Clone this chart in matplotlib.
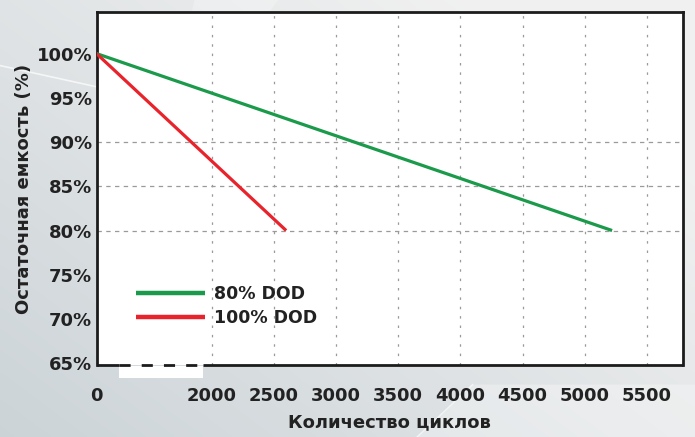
import numpy as np
import matplotlib
matplotlib.use("Agg")
import matplotlib.pyplot as plt
from matplotlib.patches import Rectangle, Polygon

# data
cycles_80 = [0, 5220]
capacity_80 = [100, 80]
cycles_100 = [0, 2600]
capacity_100 = [100, 80]
series_labels = ["80% DOD", "100% DOD"]

x_ticks = [0, 2000, 2500, 3000, 3500, 4000, 4500, 5000, 5500]
y_ticks = [65, 70, 75, 80, 85, 90, 95, 100]
y_grid = [80, 85, 90]

GREEN = "#1a9a4a"
RED = "#e8232b"
TEXT = "#222222"


# broken x axis: 0..2000 squeezed, then 500 cycles per step
def fwd(x):
    x = np.asarray(x, dtype=float)
    return np.where(x <= 2000, x * 115.0 / 2000.0, 115.0 + (x - 2000.0) * 62.2 / 500.0)


def inv(p):
    p = np.asarray(p, dtype=float)
    return np.where(p <= 115.0, p * 2000.0 / 115.0, 2000.0 + (p - 115.0) * 500.0 / 62.2)


plt.rcParams["font.family"] = ["DejaVu Sans"]

fig = plt.figure(figsize=(6.95, 4.37), dpi=100)

# background: soft grey gradient, darker at lower left
bg = fig.add_axes([0, 0, 1, 1], zorder=-10)
gx, gy = np.meshgrid(np.linspace(0, 1, 200), np.linspace(0, 1, 200))
t = np.clip(0.65 * gx + 0.55 * gy, 0, 1)[..., None]
dark = np.array([0.80, 0.83, 0.845])
light = np.array([0.945, 0.945, 0.945])
img = dark + (light - dark) * t
bg.imshow(img, origin="lower", extent=[0, 1, 0, 1], aspect="auto")
bg.add_patch(Polygon([[0.28, 1.0], [0.40, 1.0], [0.22, 0.6]], closed=True,
                     facecolor="white", alpha=0.25, edgecolor="none"))
bg.add_patch(Polygon([[1.0, 0.12], [1.0, 0.0], [0.60, 0.0], [0.68, 0.12]], closed=True,
                     facecolor="white", alpha=0.3, edgecolor="none"))
bg.plot([0.0, 0.2], [0.85, 0.78], color="white", lw=1.2, alpha=0.7)
bg.plot([0.60, 0.68], [0.0, 0.12], color="white", lw=1.0, alpha=0.6)
bg.set_xlim(0, 1)
bg.set_ylim(0, 1)
bg.axis("off")

ax = fig.add_axes([96.5 / 695, 72 / 437, 586.5 / 695, 353 / 437])
ax.set_facecolor("white")
ax.set_xscale("function", functions=(fwd, inv))
ax.set_xlim(0, 5790)
ax.set_ylim(64.8, 104.7)

for x in x_ticks[1:]:
    ax.axvline(x, color="#9a9a9a", lw=0.9, ls=(0, (2.0, 5.5)), zorder=1)
for y in y_grid:
    ax.axhline(y, color="#9a9a9a", lw=0.9, ls=(0, (3.5, 3.5)), zorder=1)

ax.plot(cycles_80, capacity_80, color=GREEN, lw=2.3, label=series_labels[0],
        solid_capstyle="butt", zorder=3)
ax.plot(cycles_100, capacity_100, color=RED, lw=2.3, label=series_labels[1],
        solid_capstyle="butt", zorder=3)

ax.set_xticks(x_ticks)
ax.set_xticklabels([str(v) for v in x_ticks])
ax.set_yticks(y_ticks)
ax.set_yticklabels([f"{v}%" for v in y_ticks])
ax.tick_params(axis="both", length=0, labelsize=13, labelcolor=TEXT)
ax.tick_params(axis="x", pad=16)
ax.tick_params(axis="y", pad=3)
for lab in ax.get_xticklabels() + ax.get_yticklabels():
    lab.set_fontweight("bold")

for side in ["top", "right", "left"]:
    ax.spines[side].set_linewidth(2.0)
    ax.spines[side].set_color("#1c1c1c")
ax.spines["bottom"].set_visible(False)

# bottom edge: solid, dashed piece, solid
ax.plot([0, 0.039], [0, 0], transform=ax.transAxes, color="#1c1c1c", lw=2.0,
        clip_on=False, zorder=5, solid_capstyle="butt")
ax.plot([0.039, 0.182], [0, 0], transform=ax.transAxes, color="#1c1c1c", lw=2.0,
        ls=(0, (4, 4)), clip_on=False, zorder=5)
ax.plot([0.182, 1.0], [0, 0], transform=ax.transAxes, color="#1c1c1c", lw=2.0,
        clip_on=False, zorder=5, solid_capstyle="butt")
ax.add_patch(Rectangle((0.039, -0.038), 0.143, 0.035, transform=ax.transAxes,
                       facecolor="white", edgecolor="none", clip_on=False, zorder=4))

ax.set_xlabel("Количество циклов", fontsize=13, fontweight="bold", color=TEXT, labelpad=6)
ax.set_ylabel("Остаточная емкость (%)", fontsize=13, fontweight="bold", color=TEXT, labelpad=3)

leg = ax.legend(loc="upper left", bbox_to_anchor=(0.055, 0.245), frameon=False,
                fontsize=12.5, handlelength=4.0, handletextpad=0.5,
                labelspacing=0.3, borderaxespad=0)
for t in leg.get_texts():
    t.set_fontweight("bold")
    t.set_color(TEXT)
for h in leg.get_lines():
    h.set_linewidth(3.2)

fig.savefig("out.png", dpi=100, facecolor=fig.get_facecolor())
